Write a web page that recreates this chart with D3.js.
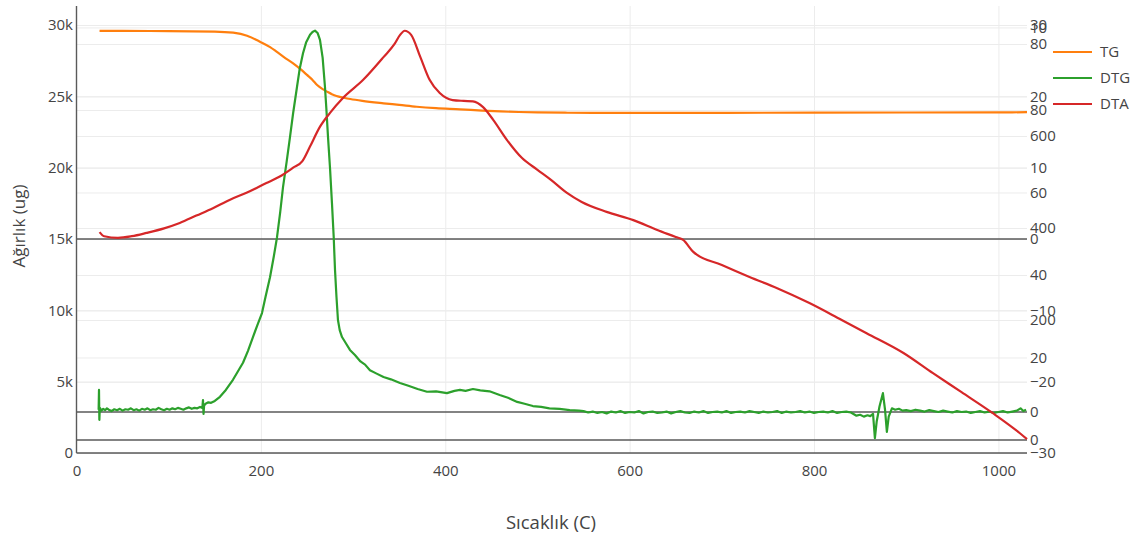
<!DOCTYPE html>
<html><head><meta charset="utf-8">
<script src="https://cdn.jsdelivr.net/npm/d3@7"></script>
<style>body{margin:0;background:#fff} text{font-family:"Open Sans",sans-serif}</style>
</head><body><svg id="c" width="1141" height="539"></svg>
<script>
// ---- data ----
const seriesNames = ["TG", "DTG", "DTA"];
const seriesColors = ["#ff7f0e", "#2ca02c", "#d62728"];

const tgTemp = [25, 50, 100, 150, 170, 185, 199, 210, 217, 225, 235, 243, 250, 256, 261, 267, 272, 277, 282, 290, 297, 310, 333, 350, 369, 390, 416, 440, 460, 480, 500, 530, 560, 600, 700, 800, 900, 1000, 1031];
const tgWeight = [29580, 29580, 29570, 29540, 29460, 29250, 28830, 28450, 28130, 27750, 27310, 26900, 26500, 26150, 25790, 25500, 25320, 25150, 25020, 24900, 24810, 24680, 24510, 24400, 24270, 24170, 24090, 24000, 23940, 23900, 23870, 23850, 23840, 23840, 23845, 23855, 23865, 23875, 23885];

const dtgTemp = [24.0, 24.4, 24.8, 25.3, 27, 29, 31, 33, 35, 38, 41, 44, 47, 50, 53, 56, 59, 62, 65, 68, 71, 74, 77, 80, 83, 86, 89, 92, 95, 98, 101, 104, 107, 110, 113, 116, 119, 122, 125, 128, 131, 134, 136.5, 137.2, 137.8, 138.4, 140, 143, 146, 150, 155.6, 162, 169.7, 175, 180.6, 186, 191.4, 196, 201.2, 205, 209.9, 214, 217.5, 221, 224, 228, 231.6, 235, 239.2, 242, 245.7, 249, 253.3, 256, 258.7, 261.5, 264.1, 267, 269.5, 271, 272.8, 275, 277.1, 279, 280.4, 282, 283.6, 285.5, 288, 292, 296.6, 302, 308, 313, 318.3, 325, 333, 341, 350.9, 360, 370, 380.2, 390, 401.8, 410, 415.9, 422, 430, 438, 448, 459, 468, 478, 486, 495, 504, 513, 524, 535, 545,
  550, 555, 560, 565, 570, 575, 580, 585, 590, 595, 600, 605, 610, 615, 620, 625, 630, 635, 640, 645, 650, 655, 660, 665, 670, 675, 680, 685, 690, 695, 700, 705, 710, 715, 720, 725, 730, 735, 740, 745, 750, 755, 760, 765, 770, 775, 780, 785, 790, 795, 800, 805, 810, 815, 820, 825, 830, 835, 840, 846, 850, 854, 858, 861, 864, 866, 868, 871, 874.7, 877, 879, 881, 884.5, 888, 892, 896, 900, 905, 910, 915, 920, 925, 930, 935, 940, 945, 950, 955, 960, 965, 970, 975, 980, 985, 990, 995, 1000, 1005, 1010, 1015, 1020, 1024, 1027, 1030];
const dtgValue = [5, 48, -17, 9, 3, 7, 4, 8, 5, 2, 6, 4, 7, 3, 6, 5, 8, 4, 6, 3, 7, 5, 8, 4, 6, 5, 9, 6, 4, 7, 5, 8, 6, 9, 7, 5, 8, 10, 7, 9, 8, 11, 9, 26, -4, 14, 18, 21, 20, 24, 33, 48, 70, 88, 107, 133, 163, 188, 215, 250, 293, 338, 380, 435, 489, 545, 598, 650, 707, 745, 780, 803, 820, 826, 829, 824, 809, 770, 707, 660, 598, 530, 454, 380, 309, 250, 200, 178, 163, 150, 135, 124, 110, 103, 91, 84, 76, 71, 63, 57, 50, 44, 45, 41, 46, 48, 46, 50, 47, 45, 37, 31, 22, 18, 13, 11, 8, 7, 4, 3,
  2, -1, 1, -2, 0, -3, 1, -1, 2, -2, 0, -1, 2, -3, 0, 1, -2, -1, 1, -3, 0, 2, -1, -2, 1, -1, 2, -2, 0, 1, -1, 2, -2, 0, 1, -1, 2, 0, -2, 1, -1, 0, 2, -2, 1, -1, 0, 2, -1, 1, -2, 0, 1, -1, 2, -2, 0, 1, -1, -8, -6, -10, -7, -9, -4, -57, -20, 12, 41, 5, -43, -10, 8, 5, 7, 3, 4, 2, 5, 3, 1, 4, 2, 0, 3, 1, -1, 2, 0, 1, -2, 0, 2, -1, 1, -2, 0, 2, -1, 1, 3, 8, 2, 5];

const dtaTemp = [25, 30, 45, 60, 76, 95, 112, 130, 148, 166, 185, 206, 220, 235, 245, 253, 264, 275, 289, 311, 333, 345, 351, 356, 363, 373, 383, 394, 408, 420, 430, 441, 452, 467, 483, 500, 515, 532, 548, 575, 604, 630, 650, 658, 669, 700, 730, 760, 795, 830, 857, 897, 929, 960, 994, 1023, 1031];
const dtaValue = [50.4, 49.4, 49.0, 49.4, 50.2, 51.3, 52.6, 54.4, 56.2, 58.2, 60.0, 62.3, 63.8, 66.0, 67.6, 71.0, 75.9, 79.3, 82.9, 87.3, 92.8, 96.0, 98.2, 99.2, 98.2, 92.8, 87.3, 84.1, 82.4, 82.2, 82.1, 80.7, 77.6, 72.7, 68.4, 65.5, 63.0, 59.9, 57.7, 55.3, 53.3, 50.9, 49.2, 48.5, 45.6, 42.4, 39.5, 36.8, 33.2, 29.1, 25.9, 21.1, 16.2, 11.6, 6.5, 1.7, 0.2];

const xTicks = [0, 200, 400, 600, 800, 1000];
const tgTicks = [0, 5000, 10000, 15000, 20000, 25000, 30000];
const auxTicks = [-30, -20, -10, 0, 10, 20, 30];
const dtgTicks = [0, 200, 400, 600, 800];
const dtaTicks = [0, 20, 40, 60, 80, 100];
const xTitle = "Sıcaklık (C)";
const yTitle = "Ağırlık (ug)";

// ---- layout ----
const svg = d3.select('#c');
const L = 76.5, R = 1027, T = 6, B = 453;
const x = d3.scaleLinear([0, 1031], [L, R]);
const yTG = d3.scaleLinear([0, 31330], [B, T]);
const yAux = d3.scaleLinear([-30, 32.66], [B, T]);
const yDTG = d3.scaleLinear([-89.1, 882.6], [B, T]);
const yDTA = d3.scaleLinear([-3.15, 105.2], [B, T]);
const font = 15, txt = "#444";

// grid
function grid(scale, ticks) {
  const g = svg.append('g').attr('transform', `translate(${L},0)`)
    .call(d3.axisLeft(scale).tickValues(ticks.filter(v => v !== 0)).tickSize(-(R - L)).tickFormat(''));
  g.select('.domain').remove();
  g.selectAll('line').attr('stroke', '#ececec').attr('stroke-width', 1);
}
const gx = svg.append('g').attr('transform', `translate(0,${B})`)
  .call(d3.axisBottom(x).tickValues(xTicks.filter(v => v !== 0)).tickSize(-(B - T)).tickFormat(''));
gx.select('.domain').remove();
gx.selectAll('line').attr('stroke', '#ececec').attr('stroke-width', 1);
grid(yTG, tgTicks); grid(yAux, auxTicks); grid(yDTG, dtgTicks); grid(yDTA, dtaTicks);

// zero lines
[yAux, yDTG, yDTA, yTG].forEach(s => {
  svg.append('line').attr('x1', L).attr('x2', R).attr('y1', s(0)).attr('y2', s(0))
    .attr('stroke', '#5a5a5a').attr('stroke-width', 1.4);
});
svg.append('line').attr('x1', x(0)).attr('x2', x(0)).attr('y1', T).attr('y2', B)
  .attr('stroke', '#5a5a5a').attr('stroke-width', 1.4);

// traces
const lineGen = (sx, sy) => d3.line().x(d => sx(d[0])).y(d => sy(d[1]));
const tgData = tgTemp.map((t, i) => [t, tgWeight[i]]);
const dtgData = dtgTemp.map((t, i) => [t, dtgValue[i]]);
const dtaData = dtaTemp.map((t, i) => [t, dtaValue[i]]);
svg.append('path').datum(tgData).attr('d', lineGen(x, yTG).curve(d3.curveMonotoneX))
  .attr('fill', 'none').attr('stroke', seriesColors[0]).attr('stroke-width', 2.2);
svg.append('path').datum(dtgData).attr('d', lineGen(x, yDTG))
  .attr('fill', 'none').attr('stroke', seriesColors[1]).attr('stroke-width', 2.2).attr('stroke-linejoin', 'round');
svg.append('path').datum(dtaData).attr('d', lineGen(x, yDTA).curve(d3.curveMonotoneX))
  .attr('fill', 'none').attr('stroke', seriesColors[2]).attr('stroke-width', 2.2);

// axis labels
function labels(scale, ticks, fmt, xpos, anchor) {
  const g = svg.append('g').attr('transform', `translate(${xpos},0)`)
    .call((anchor === 'end' ? d3.axisLeft(scale) : d3.axisRight(scale)).tickValues(ticks).tickSize(0).tickPadding(0).tickFormat(fmt));
  g.select('.domain').remove();
  g.selectAll('text').attr('font-size', font).attr('fill', txt).attr('font-family', '"Open Sans",sans-serif');
}
labels(yTG, tgTicks, d3.format('~s'), 73, 'end');
labels(yAux, auxTicks, d3.format('d'), 1030, 'start');
labels(yDTG, dtgTicks, d3.format('d'), 1030, 'start');
labels(yDTA, dtaTicks, d3.format('d'), 1030, 'start');

const gxl = svg.append('g').attr('transform', `translate(0,465)`)
  .call(d3.axisBottom(x).tickValues(xTicks).tickSize(0).tickPadding(0).tickFormat(d3.format('d')));
gxl.select('.domain').remove();
gxl.selectAll('text').attr('font-size', font).attr('fill', txt).attr('font-family', '"Open Sans",sans-serif');

// titles
svg.append('text').attr('x', 551).attr('y', 529).attr('text-anchor', 'middle')
  .attr('font-size', 18.5).attr('fill', txt).text(xTitle);
svg.append('text').attr('transform', `translate(25,226) rotate(-90)`).attr('text-anchor', 'middle')
  .attr('font-size', 17).attr('fill', txt).text(yTitle);

// legend
svg.append('rect').attr('x', 1047).attr('y', T).attr('width', 94).attr('height', 118).attr('fill', '#fff');
seriesNames.forEach((n, i) => {
  const yy = 52 + i * 26;
  svg.append('line').attr('x1', 1053).attr('x2', 1092).attr('y1', yy).attr('y2', yy)
    .attr('stroke', seriesColors[i]).attr('stroke-width', 2.2);
  svg.append('text').attr('x', 1100).attr('y', yy).attr('dy', '0.35em')
    .attr('font-size', font).attr('fill', txt).text(n);
});
</script></body></html>
